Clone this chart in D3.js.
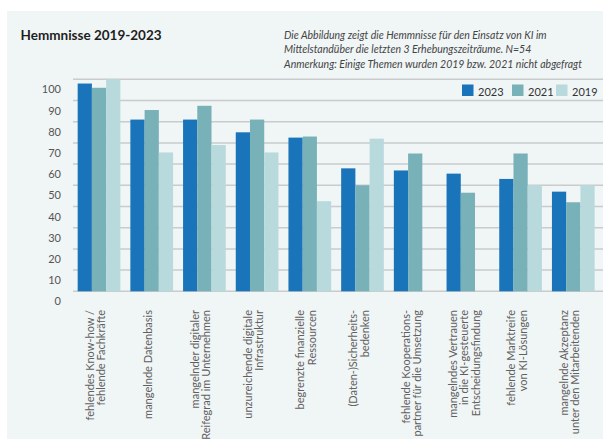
<!DOCTYPE html>
<html>
<head>
<meta charset="utf-8">
<title>Hemmnisse 2019-2023</title>
<script src="https://cdn.jsdelivr.net/npm/d3@7"></script>
<style>
  body { margin: 0; background: #fff; }
  svg text { font-family: Lato, "Noto Sans", sans-serif; }
</style>
</head>
<body>
<script>
// data
var categories = [
  ["fehlendes Know-how /", "fehlende Fachkräfte"],
  ["mangelnde Datenbasis"],
  ["mangelnder digitaler", "Reifegrad im Unternehmen"],
  ["unzureichende digitale", "Infrastruktur"],
  ["begrenzte finanzielle", "Ressourcen"],
  ["(Daten-)Sicherheits-", "bedenken"],
  ["fehlende Kooperations-", "partner für die Umsetzung"],
  ["mangelndes Vertrauen", "in die KI-gesteuerte", "Entscheidungsfindung"],
  ["fehlende Marktreife", "von KI-Lösungen"],
  ["mangelnde Akzeptanz", "unter den Mitarbeitenden"]
];
var years = ["2023", "2021", "2019"];
var v2023 = [98, 81, 81, 75, 72.5, 58, 57, 55.5, 53, 47];
var v2021 = [96, 85.5, 87.5, 81, 73, 50, 65, 46.5, 65, 42];
var v2019 = [100, 65.5, 69, 65.5, 42.5, 72, null, null, 50, 50];
var yTicks = [0, 10, 20, 30, 40, 50, 60, 70, 80, 90, 100];
var colors = ["#1a74b9", "#78b1b8", "#b9dadd"];

var W = 603, H = 439;
var svg = d3.select("body").append("svg").attr("width", W).attr("height", H);

svg.append("rect").attr("x", 7).attr("y", 11).attr("width", W - 7).attr("height", H - 11)
  .attr("fill", "#f0f5f6");

var x0 = d3.scaleBand().domain(d3.range(categories.length))
  .range([72.4, 599.9]).paddingInner(0.19).paddingOuter(0.1);
var x1 = d3.scaleBand().domain(years).range([0, x0.bandwidth()]);
var y = d3.scaleLinear().domain([0, 100]).range([291.3, 79.3]);

// gridlines
svg.append("g").selectAll("line").data(yTicks).enter().append("line")
  .attr("x1", 73).attr("x2", W)
  .attr("y1", d => y(d)).attr("y2", d => y(d))
  .attr("stroke", "#c9cbcc").attr("stroke-width", 1.5);

// y labels (sit a bit below their lines, as in the original)
svg.append("g").selectAll("text").data(yTicks).enter().append("text")
  .attr("x", 61).attr("y", d => y(d) + 11.4)
  .attr("text-anchor", "end").attr("dominant-baseline", "middle")
  .attr("font-size", 11).attr("fill", "#555")
  .text(d => d);

// bars
var series = [v2023, v2021, v2019];
var rows = [];
categories.forEach(function(c, i) {
  series.forEach(function(s, j) {
    if (s[i] != null) rows.push({ i: i, year: years[j], v: s[i], c: colors[j] });
  });
});
svg.append("g").selectAll("rect").data(rows).enter().append("rect")
  .attr("x", d => x0(d.i) + x1(d.year))
  .attr("width", x1.bandwidth())
  .attr("y", d => y(d.v))
  .attr("height", d => y(0) - y(d.v))
  .attr("fill", d => d.c);

// x labels, rotated
var lab = svg.append("g").selectAll("g").data(categories).enter().append("g")
  .attr("transform", (d, i) => "translate(" + (x0(i) + x0.bandwidth() / 2 - 2.5) + ",310) rotate(-90)");
lab.each(function(lines) {
  var g = d3.select(this);
  var n = lines.length;
  lines.forEach(function(t, k) {
    g.append("text")
      .attr("x", 0).attr("y", (k - (n - 1) / 2) * 11.5)
      .attr("text-anchor", "end").attr("dominant-baseline", "middle")
      .attr("font-size", 11).attr("fill", "#606060")
      .text(t);
  });
});

// title and notes
svg.append("text").attr("x", 20.5).attr("y", 40)
  .attr("font-size", 13.5).attr("font-weight", "bold").attr("fill", "#1e1e1e")
  .text("Hemmnisse 2019-2023");

var notes = [
  "Die Abbildung zeigt die Hemmnisse für den Einsatz von KI im",
  "Mittelstandüber die letzten 3 Erhebungszeiträume. N=54",
  "Anmerkung: Einige Themen wurden 2019 bzw. 2021 nicht abgefragt"
];
var noteY = [39, 52.5, 68];
svg.append("g").selectAll("text").data(notes).enter().append("text")
  .attr("x", 284).attr("y", (d, i) => noteY[i])
  .attr("font-size", 10.5).attr("font-style", "italic").attr("fill", "#444")
  .text(d => d);

// legend
var legX = [462, 512, 556];
var leg = svg.append("g").selectAll("g").data(years).enter().append("g")
  .attr("transform", (d, i) => "translate(" + legX[i] + ",84.5)");
leg.append("rect").attr("width", 11.5).attr("height", 11.5)
  .attr("fill", (d, i) => colors[i]);
leg.append("text").attr("x", 16).attr("y", 11)
  .attr("font-size", 11).attr("fill", "#333")
  .text(d => d);
</script>
</body>
</html>
